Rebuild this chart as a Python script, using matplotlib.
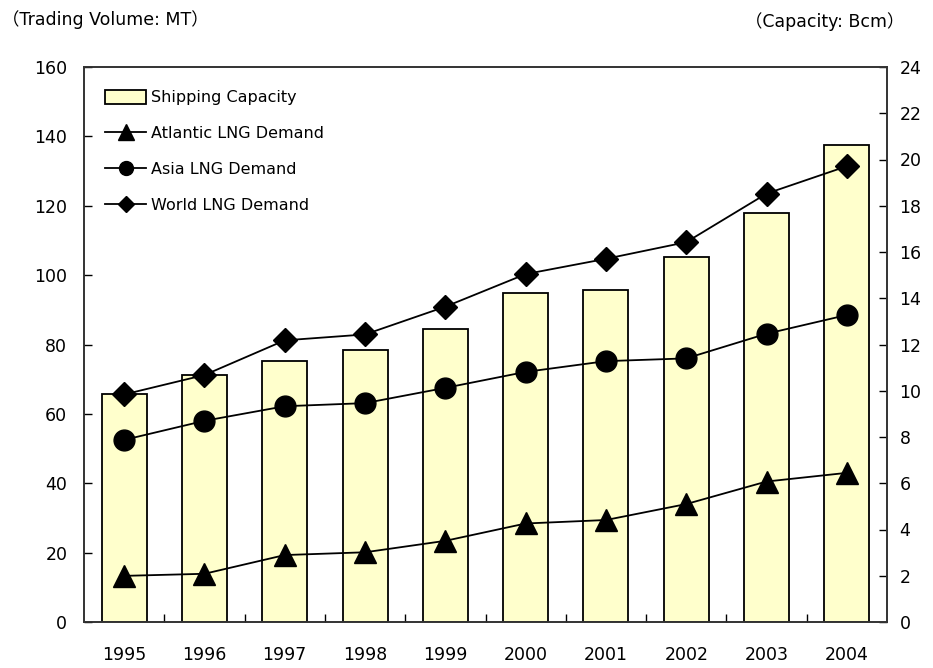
import matplotlib.pyplot as plt
import numpy as np
from matplotlib.patches import Patch
from matplotlib.lines import Line2D

plt.rcParams['font.family'] = ['DejaVu Sans', 'Noto Sans CJK JP']

years = ['1995', '1996', '1997', '1998', '1999', '2000', '2001', '2002', '2003', '2004']
capacity = [9.85, 10.69, 11.30, 11.78, 12.68, 14.23, 14.36, 15.78, 17.70, 20.64]
atlantic = [13.3, 13.9, 19.3, 20.1, 23.4, 28.4, 29.4, 34.0, 40.5, 43.0]
asia = [52.5, 58.0, 62.2, 63.1, 67.5, 72.1, 75.2, 76.0, 83.1, 88.5]
world = [65.6, 71.2, 81.2, 82.9, 90.9, 100.3, 104.7, 109.5, 123.5, 131.4]

fig = plt.figure(figsize=(9.33, 6.68), dpi=100)
ax = fig.add_axes([84/933, 1-622/668, (887-84)/933, (622-67)/668])
ax2 = ax.twinx()
ax.set_zorder(ax2.get_zorder() + 1)
ax.patch.set_visible(False)

x = np.arange(len(years))
ax2.bar(x, capacity, width=0.56, color='#FFFFCC', edgecolor='black', linewidth=1.3)
ax2.set_ylim(0, 24)
ax2.set_yticks(range(0, 25, 2))

line_kw = dict(color='black', linewidth=1.3)
ax.plot(x, atlantic, marker='^', markersize=16, **line_kw)
ax.plot(x, asia, marker='o', markersize=15, **line_kw)
ax.plot(x, world, marker='D', markersize=12, **line_kw)
ax.set_ylim(0, 160)
ax.set_yticks(range(0, 161, 20))
ax.set_xlim(-0.5, len(years) - 0.5)

ax.set_xticks(x)
ax.set_xticklabels(years)
ax.set_xticks(np.arange(0.5, len(years) - 0.5, 1), minor=True)
ax.tick_params(axis='x', which='major', length=0, labelsize=12.5, pad=17)
ax.tick_params(axis='x', which='minor', direction='in', length=6, width=1)
ax.tick_params(axis='y', direction='in', length=6, width=1, labelsize=12.5, pad=12)
ax2.tick_params(axis='y', direction='in', length=6, width=1, labelsize=12.5, pad=9)

for a in (ax, ax2):
    for s in a.spines.values():
        s.set_color('#333333')
        s.set_linewidth(1.2)

fig.text(2/933, 1-20/668, '（Trading Volume: MT）', fontsize=12.5, va='center', ha='left')
fig.text(904/933, 1-22/668, '（Capacity: Bcm）', fontsize=12.5, va='center', ha='right')

handles = [
    Patch(facecolor='#FFFFCC', edgecolor='black', linewidth=1.3),
    Line2D([], [], marker='^', markersize=11, **line_kw),
    Line2D([], [], marker='o', markersize=10, **line_kw),
    Line2D([], [], marker='D', markersize=8, **line_kw),
]
labels = ['Shipping Capacity', 'Atlantic LNG Demand', 'Asia LNG Demand', 'World LNG Demand']
ax.legend(handles, labels, loc='upper left', bbox_to_anchor=(0.008, 0.985), frameon=False,
          fontsize=11.5, handlelength=2.6, handleheight=1.0, labelspacing=1.27, handletextpad=0.3)

fig.savefig('out.png', dpi=100)
